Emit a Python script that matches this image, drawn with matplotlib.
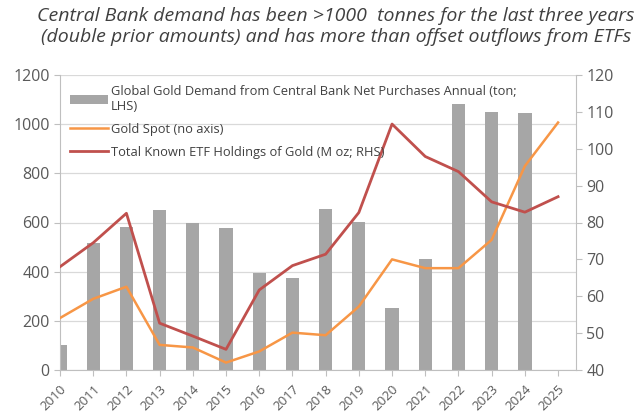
import matplotlib
matplotlib.use("Agg")
import matplotlib.pyplot as plt
import numpy as np

years = ["2010", "2011", "2012", "2013", "2014", "2015", "2016", "2017",
         "2018", "2019", "2020", "2021", "2022", "2023", "2024", "2025"]
cb_demand = [100, 515, 580, 651, 599, 579, 393, 376, 655, 603, 254, 450, 1081, 1051, 1044, np.nan]
gold_spot = [1420, 1575, 1673, 1203, 1182, 1060, 1150, 1302, 1281, 1513, 1894, 1823, 1823, 2052, 2648, 3000]
etf_holdings = [68.0, 74.5, 82.5, 52.7, 49.2, 45.6, 61.7, 68.3, 71.4, 82.7, 106.7, 97.9, 93.8, 85.6, 82.8, 87.0]

lbl_bar = "Global Gold Demand from Central Bank Net Purchases Annual (ton;\nLHS)"
lbl_spot = "Gold Spot (no axis)"
lbl_etf = "Total Known ETF Holdings of Gold (M oz; RHS)"

plt.rcParams['font.family'] = ['Open Sans', 'DejaVu Sans']

W, H = 643, 418
fig = plt.figure(figsize=(W / 100, H / 100), dpi=100)
ax = fig.add_axes([60 / W, 1 - 370 / H, (576 - 60) / W, (370 - 75) / H])
ax2 = ax.twinx()
ax3 = ax.twinx()

x = np.arange(len(years))
bar_c = "#a6a6a6"
orange = "#f79646"
red = "#c0504d"
grid_c = "#d9d9d9"
txt_c = "#595959"

bars = ax.bar(x, cb_demand, width=0.4, color=bar_c, zorder=2, label=lbl_bar)
ax.set_ylim(0, 1200)
ax.set_yticks(np.arange(0, 1201, 200))
ax.set_xlim(0, 15.54)
ax.set_xticks(x)
ax.set_xticklabels(years, rotation=45, ha="right", rotation_mode="anchor",
                   fontsize=9.5, color=txt_c)
ax.tick_params(axis="y", labelsize=11.5, labelcolor=txt_c, color="#bfbfbf",
               length=4, direction="out")
ax.tick_params(axis="x", color="#bfbfbf", length=4, direction="out", pad=5)
ax.grid(axis="y", color=grid_c, linewidth=0.9, zorder=0)
ax.set_axisbelow(True)
ax.spines["top"].set_visible(False)
ax.spines["left"].set_color("#bfbfbf")
ax.spines["bottom"].set_color("#bfbfbf")
ax.spines["right"].set_visible(False)

ln_etf, = ax2.plot(x, etf_holdings, color=red, linewidth=2.0, zorder=4, label=lbl_etf)
ax2.set_ylim(40, 120)
ax2.set_yticks(np.arange(40, 121, 10))
ax2.tick_params(axis="y", labelsize=11.5, labelcolor=txt_c, color="#bfbfbf",
                length=4, direction="out")
for s in ["top", "left", "bottom"]:
    ax2.spines[s].set_visible(False)
ax2.spines["right"].set_color("#bfbfbf")

ln_spot, = ax3.plot(x, gold_spot, color=orange, linewidth=1.8, zorder=3, label=lbl_spot)
ax3.set_ylim(1000, 3384)
ax3.axis("off")

ax.set_zorder(1)
ax2.set_zorder(3)
ax3.set_zorder(2)
ax2.patch.set_visible(False)
ax3.patch.set_visible(False)

leg = ax2.legend([bars, ln_spot, ln_etf], [lbl_bar, lbl_spot, lbl_etf],
                 loc="upper left", bbox_to_anchor=(0.0, 1.0),
                 frameon=False, fontsize=9.3, handlelength=2.9,
                 handletextpad=0.25, labelspacing=0.75, borderaxespad=0.4)
for t in leg.get_texts():
    t.set_color("#404040")

fig.text(336 / W, 1 - 7 / H,
         "Central Bank demand has been >1000  tonnes for the last three years\n"
         "(double prior amounts) and has more than offset outflows from ETFs",
         ha="center", va="top", fontsize=14, style="italic", color="#404040",
         linespacing=1.25)

fig.savefig("out.png", dpi=100)
